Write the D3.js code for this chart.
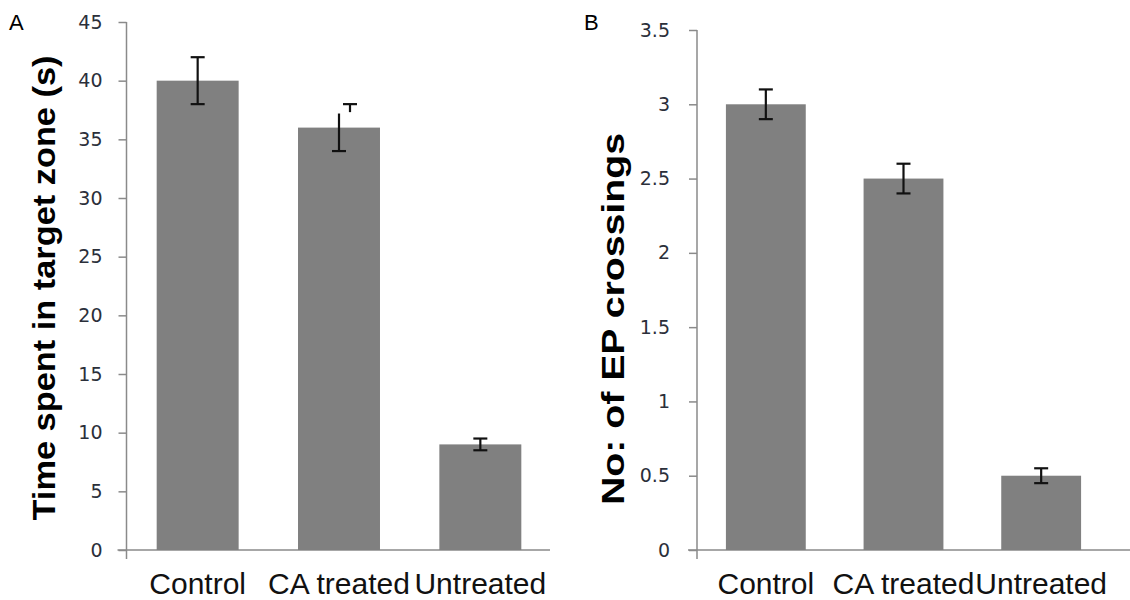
<!DOCTYPE html>
<html>
<head>
<meta charset="utf-8">
<script src="https://cdn.jsdelivr.net/npm/d3@7"></script>
<style>
  body { margin: 0; background: #fff; }
  text { font-family: "Liberation Sans", Arial, sans-serif; }
</style>
</head>
<body>
<div id="wrapper"></div>
<script>
// data
const categories = ["Control", "CA treated", "Untreated"];
const timeValues = [40, 36, 9];
const timeErrors = [2, 2, 0.5];
const timeCapShift = [0, 11, 0];   // upper cap of 2nd bar is drawn off-centre in the original
const timeTicks = [0, 5, 10, 15, 20, 25, 30, 35, 40, 45];

const crossValues = [3, 2.5, 0.5];
const crossErrors = [0.1, 0.1, 0.05];
const crossCapShift = [0, 0, 0];
const crossTicks = [0, 0.5, 1, 1.5, 2, 2.5, 3, 3.5];

let svg = d3.select("#wrapper")
    .append("svg")
    .attr("width", 1130)
    .attr("height", 600);

function drawPanel(p) {
    let g = svg.append("g");

    let x = d3.scaleBand()
        .domain(categories)
        .range(p.xRange)
        .paddingInner(0.42)
        .paddingOuter(0.21);

    let y = d3.scaleLinear()
        .domain([0, d3.max(p.ticks)])
        .range([550, p.top]);

    // y axis
    let yAxis = g.append("g")
        .attr("transform", `translate(${p.axisX},0)`)
        .call(d3.axisLeft(y)
            .tickValues(p.ticks)
            .tickFormat(d3.format("~g"))
            .tickSize(8).tickSizeOuter(0).tickPadding(p.labelPad));
    yAxis.select(".domain").remove();
    yAxis.selectAll(".tick line").attr("stroke", "#8a8a8a").attr("stroke-width", 1.5);
    yAxis.selectAll(".tick text")
        .attr("fill", "#2b2f3a")
        .style("font-family", "'DejaVu Sans', Verdana, sans-serif")
        .style("font-size", "19px");

    // axis lines (Excel style: y axis runs a little below the baseline)
    g.append("line")
        .attr("x1", p.axisX).attr("x2", p.axisX)
        .attr("y1", y(d3.max(p.ticks))).attr("y2", y(0) + 9)
        .attr("stroke", "#8a8a8a").attr("stroke-width", 1.5);
    g.append("line")
        .attr("x1", p.axisX - 9).attr("x2", p.xAxisEnd)
        .attr("y1", y(0)).attr("y2", y(0))
        .attr("stroke", "#8a8a8a").attr("stroke-width", 1.5);

    // bars
    g.selectAll("rect.bar")
        .data(p.values)
        .enter()
        .append("rect")
        .attr("class", "bar")
        .attr("x", (d, i) => x(categories[i]))
        .attr("y", d => y(d))
        .attr("width", x.bandwidth())
        .attr("height", d => y(0) - y(d))
        .attr("fill", "#808080");

    // error bars
    let cap = 7;
    p.values.forEach(function (v, i) {
        let cx = x(categories[i]) + x.bandwidth() / 2;
        let lo = v - p.errors[i], hi = v + p.errors[i];
        let shift = p.capShift[i];
        let eb = g.append("g").attr("stroke", "#111").attr("stroke-width", 2.2);
        let top = shift ? y(v + p.errors[i] * 0.6) : y(hi);
        eb.append("line").attr("x1", cx).attr("x2", cx).attr("y1", y(lo)).attr("y2", top);
        eb.append("line").attr("x1", cx - cap).attr("x2", cx + cap).attr("y1", y(lo)).attr("y2", y(lo));
        eb.append("line").attr("x1", cx + shift - cap).attr("x2", cx + shift + cap).attr("y1", y(hi)).attr("y2", y(hi));
        if (shift) {
            eb.append("line").attr("x1", cx + shift).attr("x2", cx + shift).attr("y1", y(hi)).attr("y2", y(hi) + 8);
        }
    });

    // category labels
    g.selectAll("text.cat")
        .data(categories)
        .enter()
        .append("text")
        .attr("class", "cat")
        .attr("x", d => x(d) + x.bandwidth() / 2)
        .attr("y", 594)
        .attr("text-anchor", "middle")
        .attr("fill", "#111")
        .style("font-size", "30px")
        .text(d => d);

    // axis title
    g.append("text")
        .attr("transform", `translate(${p.titleX},${p.titleY}) rotate(-90)`)
        .attr("text-anchor", "middle")
        .attr("fill", "#000")
        .style("font-size", "31px")
        .style("font-weight", "bold")
        .attr("textLength", p.titleLen)
        .attr("lengthAdjust", "spacingAndGlyphs")
        .text(p.title);

    // panel letter
    g.append("text")
        .attr("x", p.letterX).attr("y", 30)
        .attr("fill", "#000")
        .style("font-size", "22px")
        .text(p.letter);
}

drawPanel({
    values: timeValues, errors: timeErrors, capShift: timeCapShift, ticks: timeTicks,
    xRange: [127, 551], axisX: 126.5, xAxisEnd: 550, top: 22, labelPad: 16,
    title: "Time spent in target zone (s)", titleX: 55, titleY: 288, titleLen: 465,
    letter: "A", letterX: 9
});

drawPanel({
    values: crossValues, errors: crossErrors, capShift: crossCapShift, ticks: crossTicks,
    xRange: [697, 1110], axisX: 697, xAxisEnd: 1130, top: 30, labelPad: 19,
    title: "No: of EP crossings", titleX: 624, titleY: 319, titleLen: 372,
    letter: "B", letterX: 584
});
</script>
</body>
</html>
